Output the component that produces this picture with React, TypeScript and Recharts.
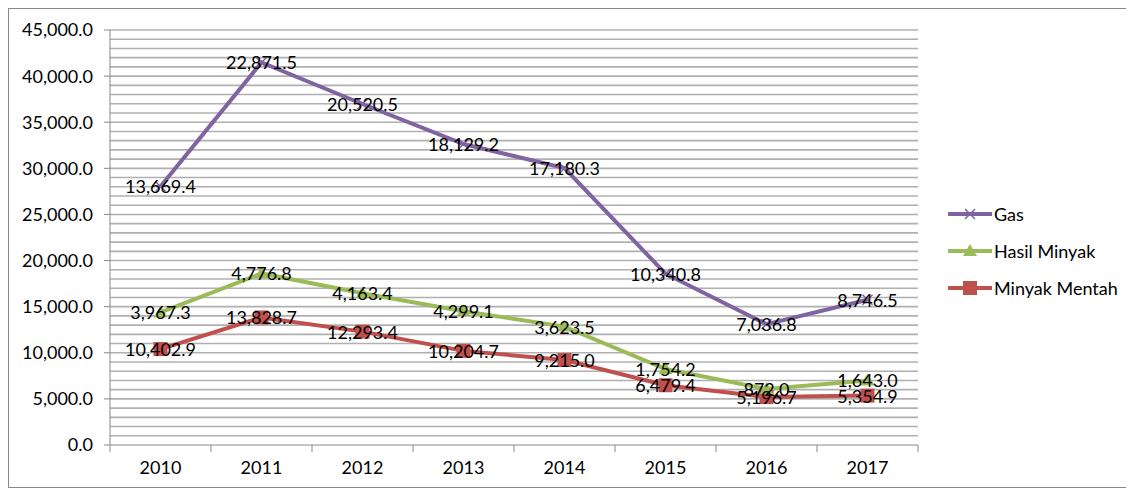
import {
  ComposedChart,
  Line,
  XAxis,
  YAxis,
  ReferenceLine,
  LabelList,
} from "recharts"

const years = ["2010", "2011", "2012", "2013", "2014", "2015", "2016", "2017"]
const minyakMentah = [10402.9, 13828.7, 12293.4, 10204.7, 9215.0, 6479.4, 5196.7, 5354.9]
const hasilMinyak = [3967.3, 4776.8, 4163.4, 4299.1, 3623.5, 1754.2, 872.0, 1643.0]
const gas = [13669.4, 22871.5, 20520.5, 18129.2, 17180.3, 10340.8, 7036.8, 8746.5]
const yTicks = [0, 5000, 10000, 15000, 20000, 25000, 30000, 35000, 40000, 45000]

const PURPLE = "#8064A2"
const GREEN = "#9BBB59"
const RED = "#C0504D"
const FONT = "Lato, 'Open Sans', sans-serif"
const FS = 18

// stacked line chart: each line sits on top of the one below
const data = years.map((year, i) => ({
  year,
  mentah: minyakMentah[i],
  hasil: minyakMentah[i] + hasilMinyak[i],
  gas: minyakMentah[i] + hasilMinyak[i] + gas[i],
}))

const minorLines: number[] = []
for (let v = 1000; v <= 45000; v += 1000) minorLines.push(v)

const fmt = (v: number) =>
  v.toLocaleString("en-US", { minimumFractionDigits: 1, maximumFractionDigits: 1 })

const makeLabel = (values: number[]) => (props: any) => {
  const { x, y, index } = props
  return (
    <text
      x={x}
      y={y}
      textAnchor="middle"
      dominantBaseline="central"
      fontSize={FS}
      fontFamily={FONT}
      fill="#000"
    >
      {fmt(values[index])}
    </text>
  )
}

const SquareDot = (props: any) => {
  const { cx, cy } = props
  return <rect x={cx - 7} y={cy - 7} width={14} height={14} fill={RED} />
}

const TriangleDot = (props: any) => {
  const { cx, cy } = props
  return <path d={`M${cx},${cy - 7} L${cx + 7},${cy + 5} L${cx - 7},${cy + 5} Z`} fill={GREEN} />
}

const CrossDot = (props: any) => {
  const { cx, cy } = props
  return (
    <path
      d={`M${cx - 5},${cy - 5} L${cx + 5},${cy + 5} M${cx - 5},${cy + 5} L${cx + 5},${cy - 5}`}
      stroke={PURPLE}
      strokeWidth={1.5}
    />
  )
}

const XTick = (props: any) => {
  const { x, y, payload, index } = props
  const half = 50.5
  return (
    <g>
      <line x1={x - half} y1={y - 8} x2={x - half} y2={y - 1} stroke="#888" />
      {index === years.length - 1 && (
        <line x1={x + half} y1={y - 8} x2={x + half} y2={y - 1} stroke="#888" />
      )}
      <text x={x} y={y + 21} textAnchor="middle" fontSize={FS} fontFamily={FONT} fill="#000">
        {payload.value}
      </text>
    </g>
  )
}

const legendItems = [
  { name: "Gas", color: PURPLE, marker: "x" },
  { name: "Hasil Minyak", color: GREEN, marker: "tri" },
  { name: "Minyak Mentah", color: RED, marker: "sq" },
]

const LegendBox = () => (
  <div
    style={{
      position: "absolute",
      left: 939,
      top: 186,
      fontFamily: FONT,
      fontSize: FS,
    }}
  >
    {legendItems.map((item) => (
      <div key={item.name} style={{ display: "flex", alignItems: "center", height: 37 }}>
        <svg width={44} height={16}>
          <line x1={0} y1={8} x2={44} y2={8} stroke={item.color} strokeWidth={4} />
          {item.marker === "sq" && <rect x={15} y={1} width={14} height={14} fill={item.color} />}
          {item.marker === "tri" && <path d="M22,1 L29,13 L15,13 Z" fill={item.color} />}
          {item.marker === "x" && (
            <path d="M17,3 L27,13 M17,13 L27,3" stroke={item.color} strokeWidth={1.5} />
          )}
        </svg>
        <span style={{ marginLeft: 2 }}>{item.name}</span>
      </div>
    ))}
  </div>
)

export default function App() {
  return (
    <div style={{ position: "relative", width: 1120, height: 478, border: "1px solid #888" }}>
      <ComposedChart
        width={1120}
        height={478}
        data={data}
        margin={{ top: 21, right: 211, bottom: 12, left: 11 }}
      >
        <XAxis
          dataKey="year"
          scale="band"
          height={30}
          stroke="#888"
          tickLine={false}
          tick={<XTick />}
        />
        <YAxis
          width={90}
          domain={[0, 45000]}
          ticks={yTicks}
          tickFormatter={fmt}
          stroke="#888"
          tickSize={6}
          tickMargin={11}
          tick={{ fontSize: FS, fontFamily: FONT, fill: "#000" }}
        />
        {minorLines.map((v) => (
          <ReferenceLine key={v} y={v} stroke="#b0b0b0" strokeWidth={1.6} />
        ))}
        <Line
          dataKey="mentah"
          name="Minyak Mentah"
          stroke={RED}
          strokeWidth={4}
          dot={<SquareDot />}
          isAnimationActive={false}
        >
          <LabelList dataKey="mentah" content={makeLabel(minyakMentah)} />
        </Line>
        <Line
          dataKey="hasil"
          name="Hasil Minyak"
          stroke={GREEN}
          strokeWidth={4}
          dot={<TriangleDot />}
          isAnimationActive={false}
        >
          <LabelList dataKey="hasil" content={makeLabel(hasilMinyak)} />
        </Line>
        <Line
          dataKey="gas"
          name="Gas"
          stroke={PURPLE}
          strokeWidth={4}
          dot={<CrossDot />}
          isAnimationActive={false}
        >
          <LabelList dataKey="gas" content={makeLabel(gas)} />
        </Line>
      </ComposedChart>
      <LegendBox />
    </div>
  )
}
